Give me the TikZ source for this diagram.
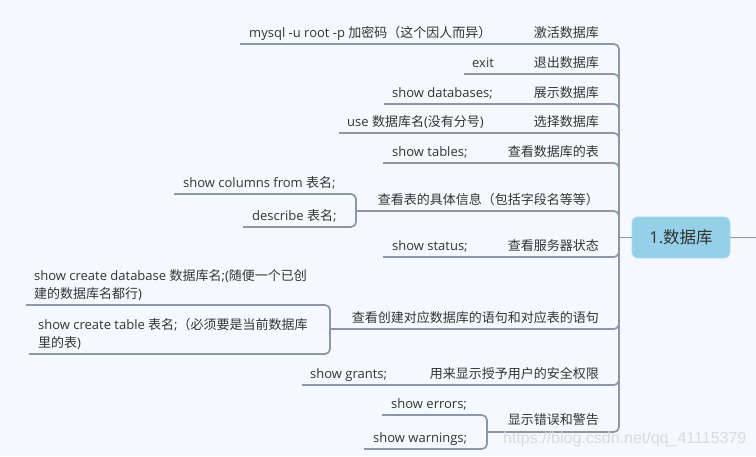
\documentclass[tikz,border=0pt]{standalone}
\usepackage{fontspec}
\setmainfont{Open Sans}
\newfontfamily\cjkf{Noto Sans CJK SC}
\newfontfamily\wmf{Liberation Sans}
\newcommand\zh[1]{{\cjkf #1}}
\definecolor{bg}{HTML}{F5F9FD}
\definecolor{ln}{HTML}{8E97AA}
\definecolor{tx}{HTML}{333333}
\definecolor{mainfill}{HTML}{94D0E7}
\definecolor{mainedge}{HTML}{A8D9EC}
\definecolor{wmc}{HTML}{D7DCE2}
\begin{document}
\begin{tikzpicture}[x=1pt,y=-1pt,
  lbl/.style={inner sep=0pt, text=tx, font=\fontsize{13}{18}\selectfont},
  child/.style={lbl, anchor=base west},
  parent/.style={lbl, anchor=base east},
  conn/.style={draw=ln, line width=1.7pt, rounded corners=5pt},
  mainbox/.style={fill=mainfill, draw=mainedge, line width=0.8pt, rounded corners=6pt,
    minimum width=98pt, minimum height=41pt, inner sep=0pt, text=tx,
    font=\fontsize{16.5}{20}\selectfont},
  wm/.style={inner sep=0pt, anchor=base west, text=wmc, font=\wmf\fontsize{16}{18}\selectfont}]
\fill[bg] (0,0) rectangle (756,456);
\useasboundingbox (0,0) rectangle (756,456);

% root
\node[mainbox] (root) at (681,237.5) {1.\zh{数据库}};
\coordinate (tr) at (619,237.5);
\coordinate (out) at (756,237.5);
\draw[conn] (tr) -- (root.west);
\draw[conn] (root.east) -- (out);

% texts
\node[child] (c1) at (249,37) {mysql -u root -p \zh{加密码（这个因人而异）}};
\node[parent] (p1) at (599,37) {\zh{激活数据库}};
\node[child] (c2) at (472,67) {exit};
\node[parent] (p2) at (599,67) {\zh{退出数据库}};
\node[child] (c3) at (392,97) {show databases;};
\node[parent] (p3) at (599,97) {\zh{展示数据库}};
\node[child] (c4) at (347,126) {use \zh{数据库名}(\zh{没有分号})};
\node[parent] (p4) at (599,126) {\zh{选择数据库}};
\node[child] (c5) at (392,156) {show tables;};
\node[parent] (p5) at (599,156) {\zh{查看数据库的表}};
\node[parent] (p6) at (599,204) {\zh{查看表的具体信息（包括字段名等等）}};
\node[child] (c6a) at (183,187) {show columns from \zh{表名};};
\node[child] (c6b) at (252,220) {describe \zh{表名};};
\node[child] (c7) at (392,250) {show status;};
\node[parent] (p7) at (599,250) {\zh{查看服务器状态}};
\node[parent] (p8) at (599,322) {\zh{查看创建对应数据库的语句和对应表的语句}};
\node[child, align=left] (c8a) at (34,298) {show create database \zh{数据库名};(\zh{随便一个已创}\\\zh{建的数据库名都行})};
\node[child, align=left] (c8b) at (38,347) {show create table \zh{表名};\zh{（必须要是当前数据库}\\\zh{里的表})};
\node[child] (c9) at (310,378) {show grants;};
\node[parent] (p9) at (599,378) {\zh{用来显示授予用户的安全权限}};
\node[parent] (p10) at (599,424) {\zh{显示错误和警告}};
\node[child] (c10a) at (391,408) {show errors;};
\node[child] (c10b) at (373,442) {show warnings;};

% line starts
\coordinate (s1) at (240,44);
\coordinate (s2) at (464,74);
\coordinate (s3) at (384,104);
\coordinate (s4) at (339,133);
\coordinate (s5) at (383,163);
\coordinate (k6) at (356,211);
\coordinate (a6) at (174,194);
\coordinate (b6) at (243,227);
\coordinate (s7) at (383,257);
\coordinate (k8) at (330,329);
\coordinate (a8) at (26,305);
\coordinate (b8) at (29,354);
\coordinate (s9) at (302,385);
\coordinate (k10) at (487,432);
\coordinate (a10) at (382,415);
\coordinate (b10) at (364,449);

% branches to trunk
\foreach \s in {s1,s2,s3,s4,s5,k6,s7,k8,s9,k10}
  \draw[conn] (\s) -- (\s -| tr) -- (tr);
% brackets
\draw[conn] (a6) -- (a6 -| k6) -- (b6 -| k6) -- (b6);
\draw[conn] (a8) -- (a8 -| k8) -- (b8 -| k8) -- (b8);
\draw[conn] (a10) -- (a10 -| k10) -- (b10 -| k10) -- (b10);

% watermark
\node[wm] (wmk) at (503,443) {https://blog.csdn.net/qq\_41115379};
\end{tikzpicture}
\end{document}
